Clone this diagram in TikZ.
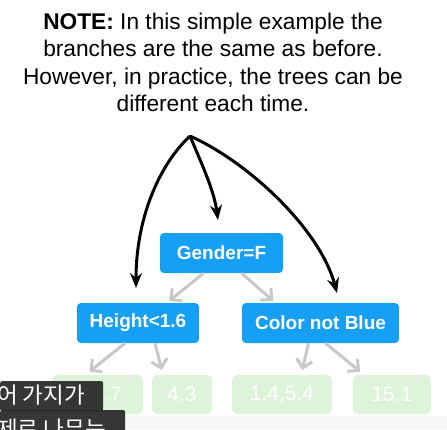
\documentclass[tikz,border=0pt]{standalone}
\usepackage{fontspec}
\setmainfont{Liberation Sans}
\newfontfamily\krfont{Noto Sans CJK KR}
\usetikzlibrary{arrows.meta}
\definecolor{nodeblue}{RGB}{22,160,245}
\definecolor{leafgreen}{RGB}{222,244,218}
\definecolor{arrgray}{RGB}{200,200,200}
\definecolor{subbg}{RGB}{38,38,38}
\tikzset{
  bluebox/.style={fill=nodeblue, rounded corners=4pt, text=white, font=\bfseries\fontsize{19}{22}\selectfont, minimum height=40pt, inner sep=0pt},
  leafbox/.style={fill=leafgreen, rounded corners=5pt, text=white, font=\fontsize{21}{24}\selectfont, minimum height=39pt, inner sep=0pt},
  grayarrow/.style={draw=arrgray, line width=3pt, shorten >=3pt, -{Straight Barb[length=8pt,width=16pt,line width=3pt]}},
  blackarrow/.style={draw=black, line width=3pt, -{Stealth[length=15pt,width=12pt]}},
  subbox/.style={fill=subbg, fill opacity=0.92, text opacity=1, text=white, rounded corners=2pt, anchor=north west, inner sep=0pt},
  subtext/.style={anchor=base west, inner sep=0pt, text=white, font=\krfont\fontsize{22.5}{26}\selectfont}
}
\begin{document}
\begin{tikzpicture}[x=1pt,y=-1pt]
\useasboundingbox (0,0) rectangle (447,429);
\fill[white] (0,0) rectangle (447,429);
\fill[gray!6] (0,416) rectangle (447,429);

\node[anchor=north, align=center, inner sep=0pt, font=\fontsize{22.7}{27.3}\selectfont] (note) at (213,13)
  {\textbf{NOTE:} In this simple example the\\branches are the same as before.\\However, in practice, the trees can be\\different each time.};

\coordinate (apex) at (190,136);

\node[bluebox, minimum width=123pt] (gender) at (221.5,253) {Gender=F};
\node[bluebox, minimum width=122pt] (height) at (138,323) {Height<1.6};
\node[bluebox, minimum width=157pt] (color) at (320.5,323) {Color not Blue};

\node[leafbox, minimum width=91pt] (l1) at (97.5,394.5) {-13.7};
\node[leafbox, minimum width=60pt] (l2) at (182,394.5) {4.3};
\node[leafbox, minimum width=100pt] (l3) at (282,394.5) {1.4,5.4};
\node[leafbox, minimum width=78pt] (l4) at (392,394.5) {15.1};

\draw[grayarrow] ([xshift=-18pt]gender.south) -- ([xshift=29pt]height.north);
\draw[grayarrow] ([xshift=20pt]gender.south) -- ([xshift=-45pt]color.north);
\draw[grayarrow, shorten >=5pt] ([xshift=-13pt]height.south) -- ([xshift=-12pt]l1.north);
\draw[grayarrow, shorten >=5pt] ([xshift=17pt]height.south) -- ([xshift=-19pt]l2.north);
\draw[grayarrow, shorten >=5pt] ([xshift=-12pt]color.south) -- ([xshift=19pt]l3.north);
\draw[grayarrow, shorten >=5pt] ([xshift=5pt]color.south) -- ([xshift=-28pt]l4.north);

\coordinate (tl) at (136,288);
\coordinate (tm) at (218,220);
\coordinate (tr) at (337,293);
\draw[blackarrow] (apex) .. controls (158,166) and (136,220) .. (tl);
\draw[blackarrow] (apex) .. controls (200,160) and (214,190) .. (tm);
\draw[blackarrow] (apex) .. controls (250,163) and (320,230) .. (tr);

\node[subbox, minimum width=103pt, minimum height=30pt] (sub1) at (0,381) {};
\node[subtext] (s1) at (-3,403) {어 가지가};
\node[subbox, minimum width=125pt, minimum height=25pt] (sub2) at (0,410) {};
\node[subtext] (s2) at (-3,437) {제로 나무는};
\end{tikzpicture}
\end{document}
